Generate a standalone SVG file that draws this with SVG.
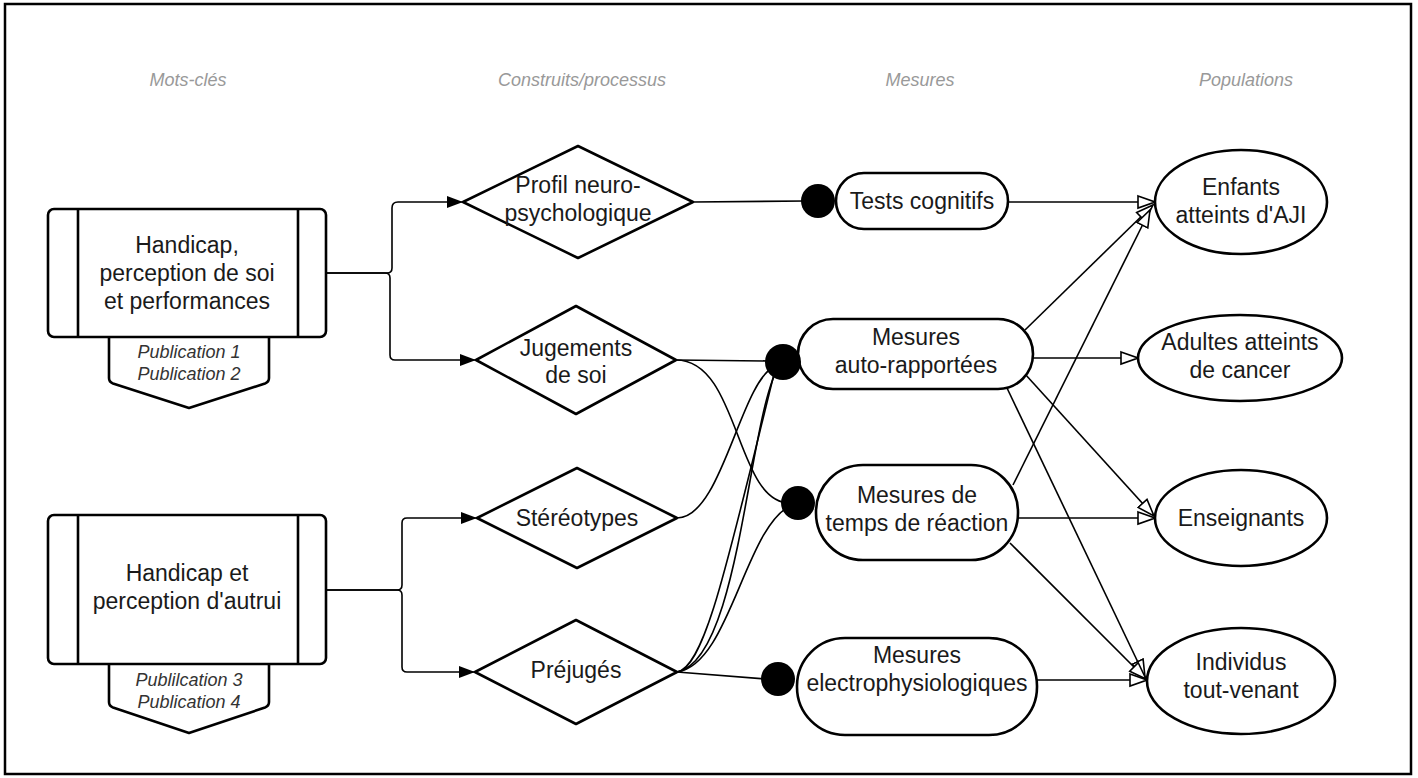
<svg xmlns="http://www.w3.org/2000/svg" width="1418" height="778" viewBox="0 0 1418 778">
<style>
.shape{fill:#fff;stroke:#000;stroke-width:2.6;stroke-linejoin:round}
.line{fill:none;stroke:#000;stroke-width:1.6}
.t{font-family:"Liberation Sans",Arial,sans-serif;font-size:23px;fill:#1a1a1a;text-anchor:middle}
.pub{font-family:"Liberation Sans",Arial,sans-serif;font-size:18px;font-style:italic;fill:#333;text-anchor:middle}
.hdr{font-family:"Liberation Sans",Arial,sans-serif;font-size:18px;font-style:italic;fill:#999;text-anchor:middle}
.dot{fill:#000}
</style>
<defs>
<marker id="filled" markerUnits="userSpaceOnUse" markerWidth="18" markerHeight="14" refX="16" refY="7" orient="auto">
<path d="M0,1 L16,7 L0,13 Z" fill="#000"/>
</marker>
<marker id="hollow" markerUnits="userSpaceOnUse" markerWidth="20" markerHeight="16" refX="18" refY="8" orient="auto">
<path d="M1,2 L18,8 L1,14 Z" fill="#fff" stroke="#000" stroke-width="1.6" stroke-linejoin="miter"/>
</marker>
</defs>
<rect x="5" y="4" width="1406" height="770" fill="#fff" stroke="#000" stroke-width="2.5"/>
<g id="headers">
<text class="hdr" x="188" y="86">Mots-clés</text>
<text class="hdr" x="582" y="86">Construits/processus</text>
<text class="hdr" x="920" y="86">Mesures</text>
<text class="hdr" x="1246" y="86">Populations</text>
</g>
<g id="connectors">
<path class="line" d="M326,273 L387,273 Q392,273 392,268 L392,208 Q392,202 398,202 L463,202" marker-end="url(#filled)"/>
<path class="line" d="M326,273 L385,273 Q390,273 390,278 L390,355 Q390,360 395,360 L476,360" marker-end="url(#filled)"/>
<path class="line" d="M326,590 L397,590 Q402,590 402,585 L402,523 Q402,518 407,518 L477,518" marker-end="url(#filled)"/>
<path class="line" d="M326,590 L397,590 Q402,590 402,595 L402,667 Q402,672 407,672 L475,672" marker-end="url(#filled)"/>
<path class="line" d="M693,202 L805,201"/>
<path class="line" d="M676,360 L770,361"/>
<path class="line" d="M676,360 C740,360 735,503 790,503"/>
<path class="line" d="M677,518 C722,518 740,382 775,366"/>
<path class="line" d="M677,672 C705,668 728,560 775,370"/>
<path class="line" d="M677,672 C740,660 748,420 778,368"/>
<path class="line" d="M677,672 C730,665 745,525 792,505"/>
<path class="line" d="M677,672 L766,679"/>
<path class="line" d="M1008,202 L1155,202" marker-end="url(#hollow)"/>
<path class="line" d="M1025,330 L1153,205" marker-end="url(#hollow)"/>
<path class="line" d="M1013,485 L1150,210" marker-end="url(#hollow)"/>
<path class="line" d="M1033,358 L1138,358" marker-end="url(#hollow)"/>
<path class="line" d="M1025,374 L1154,516" marker-end="url(#hollow)"/>
<path class="line" d="M1007,388 L1145,677" marker-end="url(#hollow)"/>
<path class="line" d="M1018,518 L1155,518" marker-end="url(#hollow)"/>
<path class="line" d="M1010,543 L1146,679" marker-end="url(#hollow)"/>
<path class="line" d="M1037,680 L1147,680" marker-end="url(#hollow)"/>
</g>
<g id="kw1">
<path class="shape" d="M109,330 L109,378 Q109,382 113,383.5 L189,408 L265,383.5 Q269,382 269,378 L269,330"/>
<rect class="shape" x="48" y="209" width="278" height="128" rx="6"/>
<line class="shape" x1="78" y1="209" x2="78" y2="337"/>
<line class="shape" x1="298" y1="209" x2="298" y2="337"/>
<text class="t" x="187" y="253">Handicap,</text>
<text class="t" x="187" y="281">perception de soi</text>
<text class="t" x="187" y="309">et performances</text>
<text class="pub" x="189" y="358">Publication 1</text>
<text class="pub" x="189" y="380">Publication 2</text>
</g>
<g id="kw2">
<path class="shape" d="M109,657 L109,702 Q109,706 113,707.5 L189,733 L265,707.5 Q269,706 269,702 L269,657"/>
<rect class="shape" x="48" y="515" width="278" height="149" rx="6"/>
<line class="shape" x1="78" y1="515" x2="78" y2="664"/>
<line class="shape" x1="298" y1="515" x2="298" y2="664"/>
<text class="t" x="187" y="581">Handicap et</text>
<text class="t" x="187" y="609">perception d'autrui</text>
<text class="pub" x="189" y="686">Publilcation 3</text>
<text class="pub" x="189" y="708">Publication 4</text>
</g>
<g id="profil">
<polygon class="shape" points="463,202 578,146 693,202 578,258"/>
<text class="t" x="578" y="193">Profil neuro-</text>
<text class="t" x="578" y="221">psychologique</text>
</g>
<g id="jugements">
<polygon class="shape" points="476,360 576,306 676,360 576,414"/>
<text class="t" x="576" y="356">Jugements</text>
<text class="t" x="576" y="383">de soi</text>
</g>
<g id="stereotypes">
<polygon class="shape" points="477,518 577,468 677,518 577,568"/>
<text class="t" x="577" y="526">Stéréotypes</text>
</g>
<g id="prejuges">
<polygon class="shape" points="475,672 576,620 677,672 576,724"/>
<text class="t" x="576" y="678">Préjugés</text>
</g>
<g id="tests">
<rect class="shape" x="836" y="173" width="172" height="56" rx="28"/>
<circle class="dot" cx="818" cy="201" r="17"/>
<text class="t" x="922" y="209">Tests cognitifs</text>
</g>
<g id="auto">
<rect class="shape" x="798" y="319" width="235" height="70" rx="35"/>
<circle class="dot" cx="783" cy="362" r="18"/>
<text class="t" x="916" y="345">Mesures</text>
<text class="t" x="916" y="373">auto-rapportées</text>
</g>
<g id="temps">
<rect class="shape" x="816" y="465" width="202" height="95" rx="47"/>
<circle class="dot" cx="798" cy="503" r="17"/>
<text class="t" x="917" y="503">Mesures de</text>
<text class="t" x="917" y="531">temps de réaction</text>
</g>
<g id="electro">
<rect class="shape" x="797" y="638" width="240" height="97" rx="48"/>
<circle class="dot" cx="778" cy="679" r="17"/>
<text class="t" x="917" y="663">Mesures</text>
<text class="t" x="917" y="691">electrophysiologiques</text>
</g>
<g id="enfants">
<ellipse class="shape" cx="1241" cy="202" rx="86" ry="52"/>
<text class="t" x="1241" y="195">Enfants</text>
<text class="t" x="1241" y="223">atteints d'AJI</text>
</g>
<g id="adultes">
<ellipse class="shape" cx="1240" cy="358" rx="102" ry="43"/>
<text class="t" x="1240" y="350">Adultes atteints</text>
<text class="t" x="1240" y="378">de cancer</text>
</g>
<g id="enseignants">
<ellipse class="shape" cx="1241" cy="518" rx="86" ry="48"/>
<text class="t" x="1241" y="526">Enseignants</text>
</g>
<g id="individus">
<ellipse class="shape" cx="1241" cy="681" rx="94" ry="53"/>
<text class="t" x="1241" y="670">Individus</text>
<text class="t" x="1241" y="698">tout-venant</text>
</g>
</svg>
